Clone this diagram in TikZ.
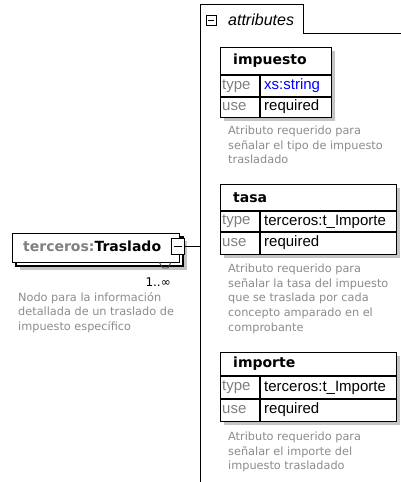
\documentclass[tikz,border=0pt]{standalone}
\usepackage{fontspec}
\usetikzlibrary{calc}
\setmainfont{Liberation Sans}
\newfontfamily\dvs{DejaVu Sans}
\definecolor{descgray}{RGB}{140,140,140}
\definecolor{typegray}{RGB}{128,128,128}
\definecolor{shadowgray}{RGB}{196,196,196}
\definecolor{linkblue}{RGB}{0,0,255}
\tikzset{
  boxline/.style={draw=black, line width=1.1pt},
  shadowbox/.style={fill=shadowgray, draw=none},
  headtext/.style={font=\dvs\bfseries\fontsize{14}{16}\selectfont, anchor=west, inner sep=0},
  celltext/.style={font=\fontsize{15}{17}\selectfont, anchor=west, inner sep=0},
  keytext/.style={celltext, text=typegray},
  desctext/.style={font=\dvs\fontsize{11.3}{14.6}\selectfont, text=descgray, align=left, anchor=north west, inner sep=0},
}
\begin{document}
\begin{tikzpicture}[x=1pt,y=-1pt]
\useasboundingbox (0,0) rectangle (401,482);
\fill[white] (0,0) rectangle (401,482);

% attributes panel
\draw[black, line width=0.9pt] (200,482) -- (200,4) -- (303,4) -- (303,33) -- (401,33);
\coordinate (panel) at (200,246);
\node[draw=black, line width=0.8pt, minimum width=10, minimum height=10, inner sep=0] (tabminus) at (211,20) {};
\draw[line width=0.8pt] ($(tabminus.west)+(2,0)$) -- ($(tabminus.east)+(-2,0)$);
\node[font=\itshape\fontsize{16}{18}\selectfont, anchor=west, inner sep=0] (tablabel) at (228,20) {attributes};

% left element
\fill[shadowgray] (20,241) rectangle (187,270);
\draw[boxline, fill=white] (16,237) rectangle (183,266);
\node[boxline, fill=white, minimum width=167, minimum height=29, anchor=north west, inner sep=0] (elem) at (12,233) {};
\node[font=\dvs\bfseries\fontsize{14}{16}\selectfont, anchor=west, inner sep=0] (elemlabel) at (23,246.5) {\textcolor{typegray}{terceros:}Traslado};
\node[draw=black, line width=0.8pt, fill=white, minimum width=13, minimum height=16, inner sep=0] (elemminus) at (178,246) {};
\draw[line width=0.8pt] ($(elemminus.west)+(3,0)$) -- ($(elemminus.east)+(-3,0)$);
\draw[line width=0.8pt] (elemminus.east) -- (panel);
\draw[line width=0.7pt, draw=black!75] (159,262) -- (163,268) -- (168,268) -- (171,262);
\node[font=\dvs\fontsize{12}{14}\selectfont, anchor=east, inner sep=0] (mult) at (171,282) {1..∞};
\node[desctext] (elemdesc) at (18,292) {Nodo para la información\\detallada de un traslado de\\impuesto específico};

% impuesto
\fill[shadowgray] (224,51) rectangle (335,121);
\node[boxline, fill=white, minimum width=111, minimum height=70, anchor=north west, inner sep=0] (imp) at (220,47) {};
\draw[boxline] (220,75) -- (331,75) (220,97) -- (331,97) (260,75) -- (260,117);
\node[headtext] (imph) at (233,61) {impuesto};
\node[keytext] (impk1) at (222,86) {type};
\node[celltext, text=linkblue] (impv1) at (264,86) {xs:string};
\node[keytext] (impk2) at (222,107) {use};
\node[celltext] (impv2) at (264,107) {required};
\node[desctext] (impdesc) at (228,126) {Atributo requerido para\\señalar el tipo de impuesto\\trasladado};

% tasa
\fill[shadowgray] (224,188) rectangle (400,258);
\node[boxline, fill=white, minimum width=176, minimum height=70, anchor=north west, inner sep=0] (tasa) at (220,184) {};
\draw[boxline] (220,211) -- (396,211) (220,232) -- (396,232) (260,211) -- (260,254);
\node[headtext] (tasah) at (233,197.5) {tasa};
\node[keytext] (tasak1) at (222,221.5) {type};
\node[celltext] (tasav1) at (264,221.5) {terceros:t\_Importe};
\node[keytext] (tasak2) at (222,243) {use};
\node[celltext] (tasav2) at (264,243) {required};
\node[desctext] (tasadesc) at (228,264) {Atributo requerido para\\señalar la tasa del impuesto\\que se traslada por cada\\concepto amparado en el\\comprobante};

% importe
\fill[shadowgray] (224,356) rectangle (400,425);
\node[boxline, fill=white, minimum width=176, minimum height=69, anchor=north west, inner sep=0] (imp2) at (220,352) {};
\draw[boxline] (220,376) -- (396,376) (220,399) -- (396,399) (260,376) -- (260,421);
\node[headtext] (imp2h) at (233,364) {importe};
\node[keytext] (imp2k1) at (222,387.5) {type};
\node[celltext] (imp2v1) at (264,387.5) {terceros:t\_Importe};
\node[keytext] (imp2k2) at (222,410) {use};
\node[celltext] (imp2v2) at (264,410) {required};
\node[desctext] (imp2desc) at (228,432) {Atributo requerido para\\señalar el importe del\\impuesto trasladado};
\end{tikzpicture}
\end{document}
